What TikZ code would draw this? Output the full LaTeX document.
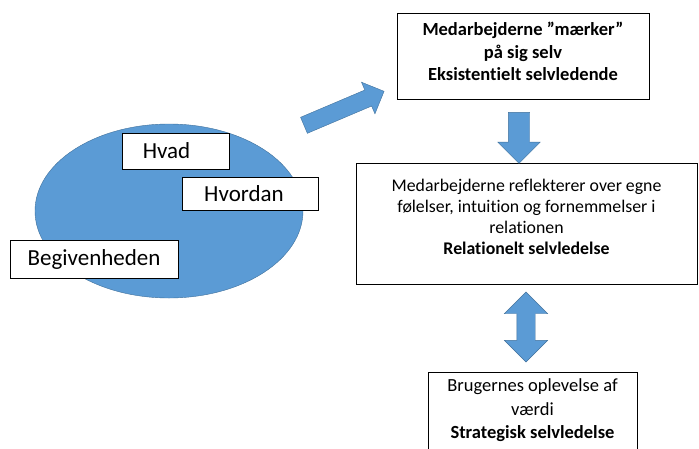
\documentclass[tikz,border=0pt]{standalone}
\usepackage{fontspec}
\setmainfont{Carlito}[Ligatures=CommonOff]
\usetikzlibrary{shapes.geometric,shapes.arrows}
\definecolor{officeblue}{HTML}{5B9BD5}
\definecolor{officeline}{HTML}{41719C}

\begin{document}
\begin{tikzpicture}
      [x=1pt,y=-1pt,
       box/.style={draw,fill=white,line width=0.9pt,align=center,inner sep=0pt},
       tag/.style={box,font=\fontsize{23}{27}\selectfont},
       blockarrow/.style={single arrow,fill=officeblue,draw=officeline,line width=0.4pt,
         inner xsep=0pt,inner ysep=#1/2,single arrow head extend=#1/2},
       twoarrow/.style={double arrow,fill=officeblue,draw=officeline,line width=0.4pt,
         inner xsep=0pt,inner ysep=#1/2,double arrow head extend=12.5pt}]
      \clip (0,0) rectangle (699,448);
      % the event
      \node[ellipse,fill=officeblue,draw=officeline,line width=0.4pt,
        minimum width=268pt,minimum height=174pt] (event) at (169,211) {};
      \node[tag,minimum width=107pt,minimum height=36pt] (what) at (175.5,151) {Hvad\hspace*{18pt}};
      \node[tag,minimum width=136pt,minimum height=33pt] (how) at (250,193.5) {Hvordan\hspace*{12pt}};
      \node[tag,minimum width=168pt,minimum height=38pt] (happening) at (94,259) {Begivenheden};
      % levels of self-management
      \node[box,minimum width=252pt,minimum height=86pt,
        font=\fontsize{18.5}{22.5}\selectfont\bfseries] (existential) at (523,56)
        {Medarbejderne ”mærker”\\på sig selv\\Eksistentielt selvledende\\[-13.5pt]};
      \node[box,minimum width=341pt,minimum height=121pt,
        font=\fontsize{17.8}{21}\selectfont] (relational) at (526.5,223.5)
        {Medarbejderne reflekterer over egne\\følelser, intuition og fornemmelser i\\relationen\\
         \textbf{Relationelt selvledelse}\\[-7pt]};
      \node[box,minimum width=209pt,minimum height=84pt,anchor=north,
        font=\fontsize{18.5}{23.5}\selectfont] (strategic) at (532.5,372)
        {Brugernes oplevelse af\\værdi\\\textbf{Strategisk selvledelse}\\[-12.5pt]};
      % block arrows
      \node[blockarrow=17pt,minimum height=87pt,rotate=23] (up) at (340,110) {};
      \node[blockarrow=21pt,minimum height=51pt,rotate=-90] (down) at (519,132.5) {};
      \node[twoarrow=18pt,minimum height=70pt,rotate=90] (both) at (526,327) {};
    \end{tikzpicture}
\end{document}
